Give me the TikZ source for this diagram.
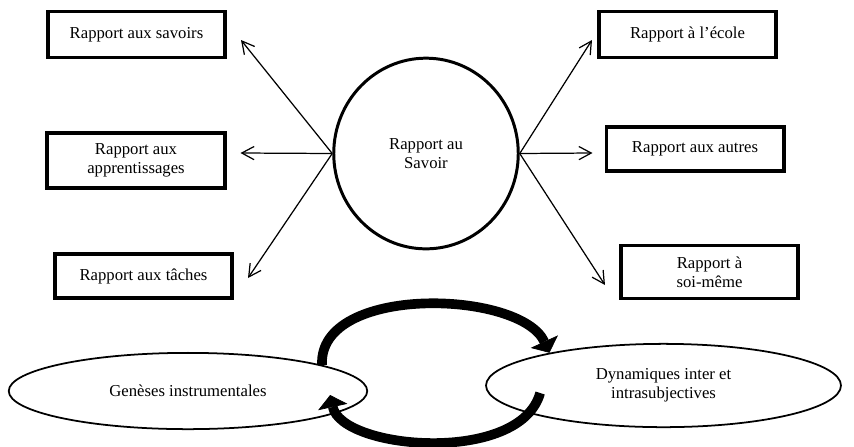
\documentclass[tikz,border=0pt]{standalone}
\usepackage{fontspec}
\setmainfont{Liberation Serif}
\usetikzlibrary{arrows, arrows.meta}
\usetikzlibrary{shapes.geometric}

\begin{document}
\begin{tikzpicture}[scale=0.2]
\tikzstyle{every node}+=[inner sep=0pt, align=center, font=\fontsize{9.5}{10.8}\selectfont]
\tikzstyle{relbox}=[draw, line width=2pt, minimum width=101pt, minimum height=26pt]
\tikzstyle{rel}=[line width=0.7pt, -{Straight Barb[length=7pt,width=7.5pt]}]
\tikzstyle{turnarrow}=[line width=5.5pt, -{Triangle[length=7pt,width=17pt,line width=0.4pt]}]
\useasboundingbox (0,0) rectangle (85.4,-44.6);
% rapport au savoir
\node [draw, ellipse, line width=1.7pt, minimum width=105pt, minimum height=108.5pt] (rs) at (42.6,-15.35) {Rapport au\\Savoir};
\node [relbox] (sav) at (13.65,-3.45) {Rapport aux savoirs};
\node [relbox, minimum height=31.5pt] (app) at (13.6,-16.05) {Rapport aux\\apprentissages};
\node [relbox, minimum height=25.3pt] (tac) at (14.35,-27.6) {Rapport aux tâches};
\node [relbox] (eco) at (68.75,-3.45) {Rapport à l’école};
\node [relbox, minimum height=25.3pt] (aut) at (69.5,-14.9) {Rapport aux autres};
\node [relbox, minimum height=30pt] (soi) at (70.95,-27.2) {Rapport à\\soi-même};
% shifts are scaled with the picture (1cm -> 1 unit)
\draw [rel] (rs.west) -- ([xshift=1.4cm,yshift=-0.55cm]sav.east);
\draw [rel] (rs.west) -- ([xshift=1.4cm,yshift=0.75cm]app.east);
\draw [rel] (rs.west) -- ([xshift=1.4cm,yshift=-0.2cm]tac.east);
\draw [rel] (rs.east) -- ([xshift=-0.5cm,yshift=-0.55cm]eco.west);
\draw [rel] (rs.east) -- ([xshift=-1.2cm,yshift=-0.4cm]aut.west);
\draw [rel] (rs.east) -- ([xshift=-1.4cm,yshift=-1.3cm]soi.west);
% geneses / dynamiques
\node [draw, ellipse, line width=1pt, minimum width=204pt, minimum height=43.4pt] (gen) at (18.8,-39.1) {Genèses instrumentales};
\node [draw, ellipse, line width=1pt, minimum width=202pt, minimum height=47.4pt] (dyn) at (66.35,-38.55) {Dynamiques inter et\\intrasubjectives};
\draw [turnarrow] (gen.11) .. controls +(-0.4,8.1) and +(-2.9,6.3) .. (dyn.164);
\draw [turnarrow] ([xshift=5.5cm,yshift=-0.75cm]dyn.west) .. controls +(-2,-7.2) and +(1.2,-5.5) .. ([xshift=-3.8cm,yshift=-0.4cm]gen.east);
\end{tikzpicture}
\end{document}
